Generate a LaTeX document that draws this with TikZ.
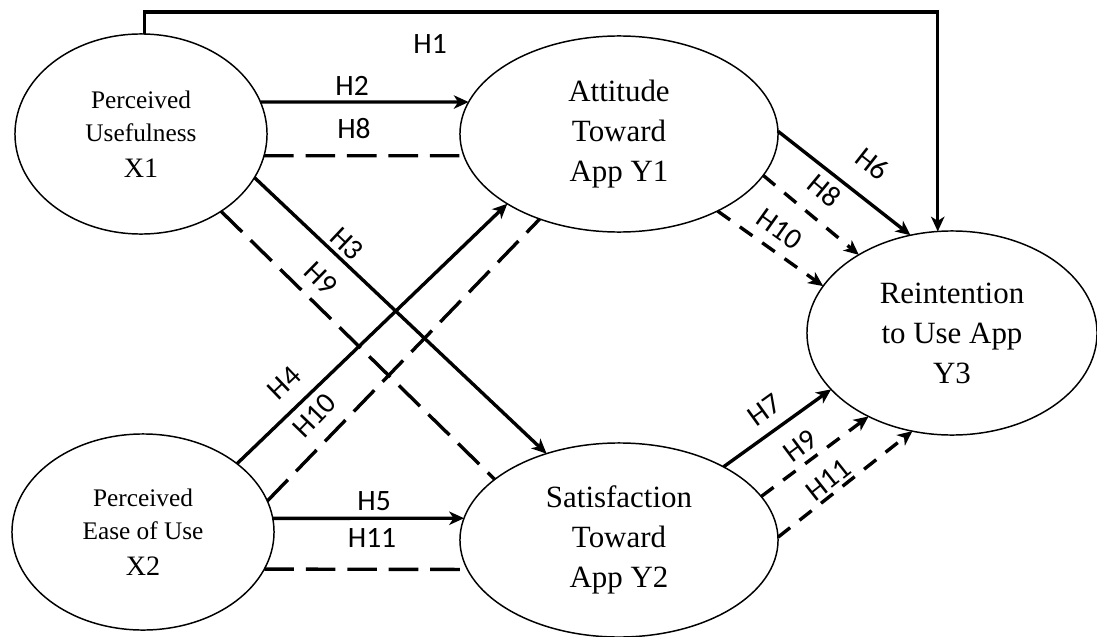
\documentclass[tikz,border=0pt]{standalone}
\usepackage{fontspec}
\setmainfont{Liberation Serif}
\newfontfamily\hypfont{Carlito}
\usetikzlibrary{shapes.geometric,arrows.meta}

\tikzset{
  construct/.style={ellipse, draw, line width=1.05pt, outer sep=0pt, inner sep=0pt, align=center},
  bigtext/.style={font=\fontsize{22}{28.5}\selectfont},
  smalltext/.style={font=\fontsize{18}{23.5}\selectfont},
  tip/.style={-{Stealth[length=10.5pt,width=9.5pt,inset=3pt]}},
  link/.style={line width=2.4pt},
  longdash/.style={line width=2.4pt, dash pattern=on 21pt off 8.5pt},
  shortdash/.style={line width=2.4pt, dash pattern=on 11pt off 8.5pt},
  hyp/.style={font=\hypfont\fontsize{21}{24}\selectfont, inner sep=0pt, sloped}
}

\begin{document}
\begin{tikzpicture}[x=0.025cm, y=-0.025cm]
  \useasboundingbox (0,0) rectangle (1097,637);

  \node [construct, smalltext, minimum width=6.3cm, minimum height=5cm] (X1) at (141,134)
        {Perceived\\Usefulness\\[2pt]{\fontsize{20}{24}\selectfont X1}};
  \node [construct, bigtext, minimum width=7.95cm, minimum height=4.9cm] (Y1) at (619,134)
        {Attitude\\Toward\\App Y1};
  \node [construct, smalltext, minimum width=6.55cm, minimum height=4.9cm] (X2) at (143,532)
        {Perceived\\Ease of Use\\[2pt]{\fontsize{20}{24}\selectfont X2}};
  \node [construct, bigtext, minimum width=7.95cm, minimum height=4.85cm] (Y2) at (619,540)
        {Satisfaction\\Toward\\App Y2};
  \node [construct, bigtext, minimum width=7.25cm, minimum height=5.1cm] (Y3) at (952,333)
        {Reintention\\to Use App\\Y3};
  \coordinate (h1top) at (0,12);

  % direct paths
  \draw [link, tip] (X1.88) -- (X1.88 |- h1top)
        -- node [hyp, pos=0.36, below=15pt] {H1} (Y3.98 |- h1top) -- (Y3.98);
  \draw [link, tip] (X1.15) -- node [hyp, pos=0.44, above=3.6pt] {H2} (Y1.168);
  \draw [link, tip] (X1.-21) -- node [hyp, pos=0.28, above=2.8pt] {H3} (Y2.130.6);
  \draw [link, tip] (X2.36.3) -- node [hyp, pos=0.24, above=10pt] {H4} (Y1.212.2);
  \draw [link, tip] (X2.6) -- node [hyp, pos=0.53, above=4.3pt] {H5} (Y2.172);
  \draw [link, tip] (Y1.1.4) -- node [hyp, pos=0.56, above=15pt] {H6} (Y3.113.7);
  \draw [link, tip] (Y2.35.9) -- node [hyp, pos=0.5, above=7.8pt] {H7} (Y3.205.6);

  % mediated paths
  \draw [longdash] (X1.-10.1) -- node [hyp, pos=0.45, above=10.7pt] {H8} (Y1.188.5);
  \draw [longdash] (X1.-44.3) -- node [hyp, pos=0.31, above=7.8pt] {H9} (Y2.154.7);
  \draw [longdash] (X2.14.4) -- node [hyp, pos=0.24, above=10pt] {H10} (Y1.227.5);
  \draw [longdash] (X2.-17.5) -- node [hyp, pos=0.53, above=14pt] {H11} (Y2.191.2);
  \draw [shortdash, tip] (Y1.-16.6) -- node [hyp, pos=0.46, above=11.4pt] {H8} (Y3.140.3);
  \draw [shortdash, tip] (Y1.-38.1) -- node [hyp, pos=0.47, above=7pt] {H10} (Y3.160.8);
  \draw [shortdash, tip] (Y2.17.7) -- node [hyp, pos=0.46, above=4.3pt] {H9} (Y3.225.7);
  \draw [shortdash, tip] (Y2.1.8) -- node [hyp, pos=0.44, above=1.8pt] {H11} (Y3.248.7);
\end{tikzpicture}
\end{document}
